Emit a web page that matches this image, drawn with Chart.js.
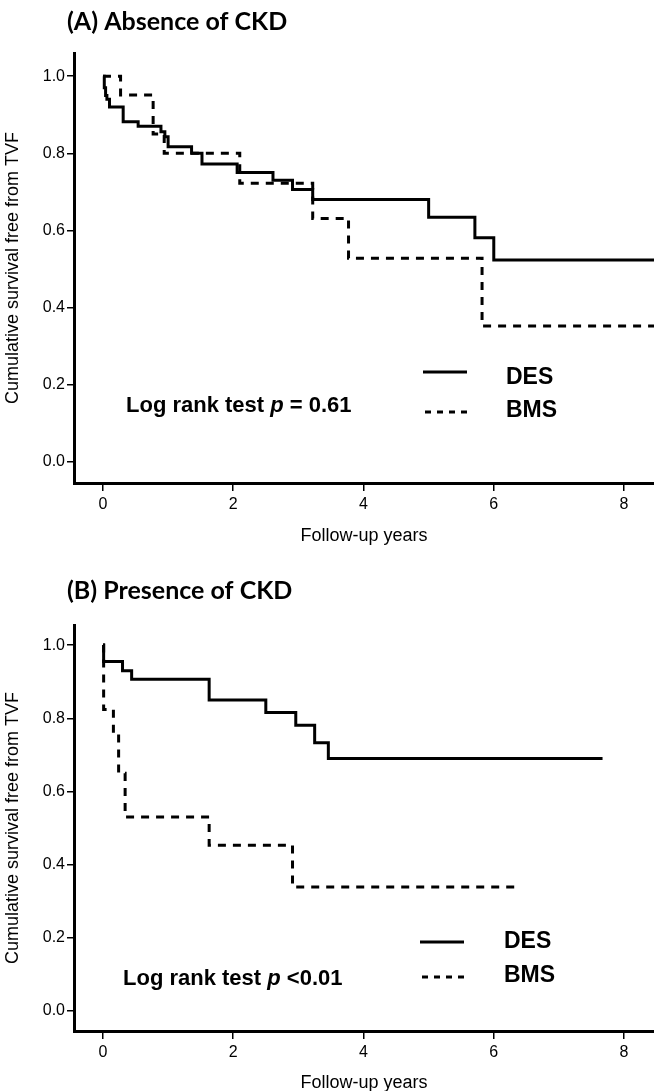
<!DOCTYPE html>
<html>
<head>
<meta charset="utf-8">
<script src="https://cdn.jsdelivr.net/npm/chart.js@4.4.0/dist/chart.umd.min.js"></script>
<style>
  html, body { margin: 0; padding: 0; background: #fff; }
  #wrap { position: relative; width: 654px; height: 1091px; }
  canvas { position: absolute; left: 0; }
</style>
</head>
<body>
<div id="wrap">
  <canvas id="chartA" width="654" height="560" style="top:0px"></canvas>
  <canvas id="chartB" width="654" height="531" style="top:560px"></canvas>
</div>
<script>
// Panel A - absence of CKD (Kaplan-Meier steps)
const desTimeA = [0, 0.02, 0.04, 0.06, 0.1, 0.31, 0.54, 0.89, 0.95, 1.0, 1.36, 1.52, 2.06, 2.61, 2.91, 3.22, 5.0, 5.71, 6.0, 8.6];
const desSurvA = [1.0, 0.97, 0.95, 0.94, 0.92, 0.882, 0.87, 0.856, 0.843, 0.817, 0.80, 0.772, 0.75, 0.73, 0.706, 0.68, 0.634, 0.581, 0.523, 0.523];
const bmsTimeA = [0, 0.27, 0.77, 0.94, 2.1, 3.22, 3.77, 5.82, 8.6];
const bmsSurvA = [1.0, 0.951, 0.85, 0.80, 0.722, 0.631, 0.528, 0.352, 0.352];

// Panel B - presence of CKD
const desTimeB = [0, 0.01, 0.30, 0.44, 1.63, 2.5, 2.96, 3.25, 3.46, 7.67];
const desSurvB = [1.0, 0.955, 0.93, 0.907, 0.85, 0.816, 0.781, 0.733, 0.69, 0.69];
const bmsTimeB = [0, 0.01, 0.16, 0.24, 0.34, 1.63, 2.91, 6.41];
const bmsSurvB = [1.0, 0.824, 0.76, 0.65, 0.53, 0.453, 0.339, 0.339];

const xTicks = [0, 2, 4, 6, 8];
const yTicks = [0, 0.2, 0.4, 0.6, 0.8, 1.0];
const seriesNames = ['DES', 'BMS'];

const axisFont = '"Liberation Sans", Arial, sans-serif';

function toPoints(times, surv) {
  return times.map((t, i) => ({ x: t, y: surv[i] }));
}

// draws panel title, log rank text and the little legend
function notesPlugin(opts) {
  return {
    id: 'notes',
    afterDraw(chart) {
      const ctx = chart.ctx;
      ctx.save();
      ctx.fillStyle = '#000';
      ctx.textBaseline = 'alphabetic';

      // panel title
      ctx.font = 'bold 25px Lato, "Open Sans", sans-serif';
      ctx.fillText(opts.title, 67, opts.titleY);

      // log rank text, p in italics
      let x = opts.logX;
      ctx.font = 'bold 22px ' + axisFont;
      ctx.fillText('Log rank test ', x, opts.logY);
      x += ctx.measureText('Log rank test ').width;
      ctx.font = 'italic bold 22px ' + axisFont;
      ctx.fillText('p', x, opts.logY);
      x += ctx.measureText('p').width;
      ctx.font = 'bold 22px ' + axisFont;
      ctx.fillText(opts.logRest, x, opts.logY);

      // legend
      ctx.strokeStyle = '#000';
      ctx.lineWidth = 3;
      ctx.beginPath();
      ctx.moveTo(opts.legX1, opts.desLineY);
      ctx.lineTo(opts.legX2, opts.desLineY);
      ctx.stroke();
      ctx.setLineDash([6, 6]);
      ctx.beginPath();
      ctx.moveTo(opts.legX1 + 2, opts.bmsLineY);
      ctx.lineTo(opts.legX2, opts.bmsLineY);
      ctx.stroke();
      ctx.setLineDash([]);

      ctx.font = 'bold 23px ' + axisFont;
      ctx.fillText(seriesNames[0], opts.textX, opts.desTextY);
      ctx.fillText(seriesNames[1], opts.textX, opts.bmsTextY);
      ctx.restore();
    }
  };
}

function makeChart(id, des, bms, yMin, yMax, padTop, xHeight, titlePad, notes) {
  const ctx = document.getElementById(id).getContext('2d');
  return new Chart(ctx, {
    type: 'line',
    data: {
      datasets: [
        {
          label: seriesNames[0],
          data: des,
          borderColor: '#000',
          borderWidth: 3,
          stepped: 'before',
          pointRadius: 0,
          fill: false
        },
        {
          label: seriesNames[1],
          data: bms,
          borderColor: '#000',
          borderWidth: 3,
          borderDash: [8, 7],
          stepped: 'before',
          pointRadius: 0,
          fill: false
        }
      ]
    },
    options: {
      responsive: false,
      animation: false,
      layout: { padding: { top: padTop, left: 0, right: 0, bottom: 0 } },
      plugins: {
        legend: { display: false },
        tooltip: { enabled: false }
      },
      scales: {
        x: {
          type: 'linear',
          min: -0.445,
          max: 8.46,
          afterBuildTicks: (s) => { s.ticks = xTicks.map(v => ({ value: v })); },
          afterFit: (s) => { s.height = xHeight; },
          ticks: {
            color: '#000',
            font: { family: axisFont, size: 16 },
            padding: 4,
            autoSkip: false,
            maxRotation: 0
          },
          grid: {
            display: true,
            drawOnChartArea: false,
            drawTicks: true,
            tickLength: 8,
            color: '#000',
            lineWidth: 1.5
          },
          border: { display: true, color: '#000', width: 3 },
          title: {
            display: true,
            text: 'Follow-up years',
            color: '#000',
            font: { family: axisFont, size: 18 },
            padding: { top: 0, bottom: titlePad }
          }
        },
        y: {
          type: 'linear',
          min: yMin,
          max: yMax,
          afterBuildTicks: (s) => { s.ticks = yTicks.map(v => ({ value: v })); },
          afterFit: (s) => { s.width = 74; },
          ticks: {
            color: '#000',
            font: { family: axisFont, size: 16 },
            padding: 2,
            callback: (v) => v.toFixed(1)
          },
          grid: {
            display: true,
            drawOnChartArea: false,
            drawTicks: true,
            tickLength: 7,
            color: '#000',
            lineWidth: 1.5
          },
          border: { display: true, color: '#000', width: 3 },
          title: {
            display: true,
            text: 'Cumulative survival free from TVF',
            color: '#000',
            font: { family: axisFont, size: 18 },
            padding: { top: 2, bottom: 0 }
          }
        }
      }
    },
    plugins: [notesPlugin(notes)]
  });
}

makeChart('chartA', toPoints(desTimeA, desSurvA), toPoints(bmsTimeA, bmsSurvA),
  -0.055, 1.06, 53, 77, 13, {
    title: '(A) Absence of CKD', titleY: 30,
    logX: 126, logY: 412, logRest: ' = 0.61',
    legX1: 423, legX2: 467, desLineY: 372, bmsLineY: 412,
    textX: 506, desTextY: 384, bmsTextY: 417
  });

makeChart('chartB', toPoints(desTimeB, desSurvB), toPoints(bmsTimeB, bmsSurvB),
  -0.055, 1.055, 65, 60, -3, {
    title: '(B) Presence of CKD', titleY: 39,
    logX: 123, logY: 425, logRest: ' <0.01',
    legX1: 420, legX2: 464, desLineY: 382, bmsLineY: 417,
    textX: 504, desTextY: 388, bmsTextY: 422
  });
</script>
</body>
</html>
